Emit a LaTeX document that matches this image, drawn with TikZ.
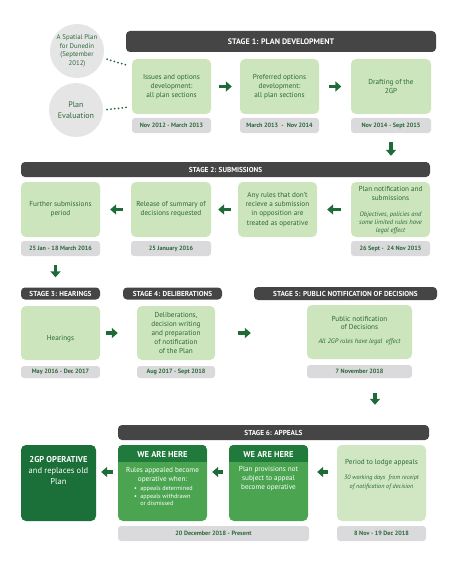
\documentclass[tikz,border=0pt]{standalone}
\usepackage{fontspec}
\setmainfont{PT Sans}
\usetikzlibrary{arrows.meta,calc}
\definecolor{lgreen}{HTML}{CCE5BC}
\definecolor{pgreen}{HTML}{D1E7C3}
\definecolor{tgreen}{HTML}{2B6839}
\definecolor{dgrey}{HTML}{454545}
\definecolor{dategrey}{HTML}{DADADC}
\definecolor{agreen}{HTML}{1E6B37}
\definecolor{dkgreen}{HTML}{1B6F38}
\definecolor{hdgreen}{HTML}{207A3C}
\definecolor{mdgreen}{HTML}{4BA550}
\definecolor{cgrey}{HTML}{E5E5E5}
\begin{document}
\begin{tikzpicture}[x=1pt,y=-1pt,
  box/.style={fill=lgreen, rounded corners=5pt, inner sep=0pt, text=tgreen, align=center, font=\fontsize{7.2}{9.2}\selectfont},
  datebox/.style={fill=dategrey, rounded corners=3pt, inner sep=0pt, text=tgreen, font=\bfseries\fontsize{6.2}{7}\selectfont, minimum height=15},
  bar/.style={fill=dgrey, rounded corners=4pt, inner sep=0pt, text=white, font=\bfseries\fontsize{7.2}{8}\selectfont},
  circ/.style={circle, fill=cgrey, inner sep=0pt, minimum size=54, text=tgreen, align=center},
  garrow/.style={draw=agreen, line width=3.5pt, -{Triangle[length=6pt,width=10pt]}},
  dots/.style={draw=tgreen, line width=2pt, line cap=round, dash pattern=on 0pt off 3.8pt},
  txt/.style={text=tgreen, align=center, inner sep=0pt, font=\fontsize{7.2}{8.8}\selectfont},
  itxt/.style={text=tgreen, align=center, inner sep=0pt, font=\itshape\fontsize{6.5}{8}\selectfont},
  wtxt/.style={text=white, align=center, inner sep=0pt, font=\fontsize{7.2}{9}\selectfont},
  htxt/.style={text=white, inner sep=0pt, font=\bfseries\fontsize{8.5}{10}\selectfont}
]
\useasboundingbox[fill=white] (0,0) rectangle (450,567);

% circles
\node[circ, font=\fontsize{6.8}{8.6}\selectfont] (c1) at (77,51) {A Spatial Plan\\for Dunedin\\(September\\2012)};
\node[circ, font=\fontsize{8}{10.5}\selectfont] (c2) at (76,110) {Plan\\Evaluation};

% stage 1
\node[bar, minimum width=310, minimum height=21, font=\bfseries\fontsize{8}{9}\selectfont] (s1) at (281,41.5) {STAGE 1: PLAN DEVELOPMENT};
\node[box, minimum width=79, minimum height=55] (b11) at (171.5,86.5) {Issues and options\\development:\\all plan sections};
\node[datebox, minimum width=79] (d11) at (171.5,125.5) {Nov 2012 - March 2013};
\node[box, minimum width=79, minimum height=55] (b12) at (279.5,86.5) {Preferred options\\development:\\all plan sections};
\node[datebox, minimum width=79] (d12) at (279.5,125.5) {March 2013 \ - \ Nov 2014};
\node[box, minimum width=80, minimum height=55] (b13) at (391,86.5) {Drafting of the\\2GP};
\node[datebox, minimum width=80] (d13) at (391,125.5) {Nov 2014 - Sept 2015};

\draw[dots, shorten <=4pt] (c1.-15) -- ([xshift=-4pt,yshift=21pt]b11.west);
\draw[dots, shorten <=4pt] (c2.east) -- ([xshift=-4pt,yshift=7pt]b11.south west);
\draw[garrow, shorten <=8pt, shorten >=8pt] (b11) -- (b12);
\draw[garrow, shorten <=9.5pt, shorten >=9.5pt] (b12) -- (b13);

% stage 2
\node[bar, minimum width=409, minimum height=15] (s2) at (225.5,169.5) {STAGE 2: SUBMISSIONS};
\draw[garrow, shorten <=9pt, shorten >=6pt] (d13.south) -- (d13.south |- s2.north);
\node[box, minimum width=79, minimum height=55] (b21) at (60.5,209.5) {Further submissions\\period};
\node[datebox, minimum width=79] (d21) at (60.5,248.5) {25 Jan - 18 March 2016};
\node[box, minimum width=80, minimum height=55] (b22) at (171,209.5) {Release of summary of\\decisions requested};
\node[datebox, minimum width=80] (d22) at (171,248.5) {25 January 2016};
\node[box, minimum width=79, minimum height=55] (b23) at (277.5,209.5) {Any rules that don't\\recieve a submission\\in opposition are\\treated as operative};
\node[box, minimum width=79, minimum height=55] (b24) at (390.5,209.5) {};
\node[txt] (t24) at (390.5,193.5) {Plan notification and\\submissions};
\node[itxt] (i24) at (390.5,223) {Objectives, policies and\\some limited rules have\\legal effect};
\node[datebox, minimum width=79] (d24) at (390.5,248.5) {26 Sept - \ 24 Nov 2015};
\draw[garrow, shorten <=10pt, shorten >=10pt] (b24) -- (b23);
\draw[garrow, shorten <=7pt, shorten >=7pt] (b23) -- (b22);
\draw[garrow, shorten <=8pt, shorten >=10pt] (b22) -- (b21);

% stages 3-5
\node[bar, minimum width=79, minimum height=12] (s3) at (60.5,293.5) {STAGE 3: HEARINGS};
\node[bar, minimum width=99, minimum height=12] (s4) at (172.5,293.5) {STAGE 4: DELIBERATIONS};
\node[bar, minimum width=183, minimum height=13] (s5) at (345.5,293.5) {STAGE 5: PUBLIC NOTIFICATION OF DECISIONS};
\draw[garrow, shorten <=9pt, shorten >=10pt] ([xshift=-5pt]d21.south) -- ([xshift=-5pt]d21.south |- s3.north);

\node[box, minimum width=79, minimum height=54] (b31) at (60.5,333) {};
\node[txt] (t31) at (60.5,339) {Hearings};
\node[datebox, minimum width=79, minimum height=12] (d31) at (60.5,372) {May 2016 - Dec 2017};
\node[box, minimum width=78, minimum height=54, font=\fontsize{7.2}{8.9}\selectfont] (b32) at (176,333) {Deliberations,\\decision writing\\and preparation\\of notification\\of the Plan};
\node[datebox, minimum width=78, minimum height=12] (d32) at (176,372) {Aug 2017 - Sept 2018};
\node[box, minimum width=105, minimum height=54] (b33) at (359.5,332) {};
\node[txt, font=\fontsize{7.2}{8.3}\selectfont] (t33) at (359.5,323) {Public notification\\of Decisions};
\node[itxt, font=\itshape\fontsize{6.6}{8}\selectfont] (i33) at (359.5,342) {All 2GP rules have legal \ effect};
\node[datebox, minimum width=105, minimum height=13] (d33) at (359.5,371.5) {7 November 2018};
\draw[garrow, shorten <=6pt, shorten >=19pt] (b31) -- (b32);
\draw[garrow, shorten <=23pt, shorten >=56pt] (b32.east) -- (b32.east -| b33.west);

% stage 6
\node[bar, minimum width=311, minimum height=15] (s6) at (273.5,432.5) {STAGE 6: APPEALS};
\draw[garrow, shorten <=15pt, shorten >=20pt] ([xshift=15.5pt]d33.south) -- ([xshift=15.5pt]d33.south |- s6.north);

\node[fill=dkgreen, rounded corners=5pt, minimum width=75, minimum height=76, inner sep=0pt] (b41) at (58.5,483) {};
\node[wtxt, font=\fontsize{8.5}{10.6}\selectfont] (t41) at (58.5,470.5) {{\bfseries 2GP OPERATIVE}\\and replaces old\\Plan};

\node[fill=mdgreen, rounded corners=5pt, minimum width=89, minimum height=76, inner sep=0pt] (b42) at (162.5,483) {};
\begin{scope}
  \clip[rounded corners=5pt] (b42.north west) rectangle (b42.south east);
  \fill[hdgreen] (b42.north west) rectangle ($(b42.north east)+(0,17)$);
\end{scope}
\node[htxt] (h42) at (162.5,454) {WE ARE HERE};
\node[wtxt] (t42) at (162.5,475.5) {Rules appealed become\\operative when:};
\node[wtxt, align=left, anchor=north west, font=\fontsize{6.2}{7.6}\selectfont] (l42) at (134,486) {\textbullet\ \ appeals determined\\\textbullet\ \ appeals withdrawn\\\phantom{\textbullet\ \ }or dismissed};

\node[fill=mdgreen, rounded corners=5pt, minimum width=79, minimum height=76, inner sep=0pt] (b43) at (268.5,483) {};
\begin{scope}
  \clip[rounded corners=5pt] (b43.north west) rectangle (b43.south east);
  \fill[hdgreen] (b43.north west) rectangle ($(b43.north east)+(0,17)$);
\end{scope}
\node[htxt] (h43) at (268.5,454) {WE ARE HERE};
\node[wtxt] (t43) at (268.5,479) {Plan provisions not\\subject to appeal\\become operative};

\node[fill=pgreen, rounded corners=5pt, minimum width=89, minimum height=76, inner sep=0pt] (b44) at (381.5,483) {};
\node[txt] (t44) at (381.5,463) {Period to lodge appeals};
\node[itxt, font=\itshape\fontsize{6.2}{9}\selectfont] (i44) at (381.5,482.5) {30 working days \ from receipt\\of notification of decision};

\node[datebox, minimum width=191] (d42) at (213.5,533.5) {20 December 2018 - Present};
\node[datebox, minimum width=89] (d44) at (381.5,533.5) {8 Nov - 19 Dec 2018};

\draw[garrow, shorten <=9pt, shorten >=9pt] ([yshift=11pt]b44.west) -- ([yshift=11pt]b43.east);
\draw[garrow, shorten <=6pt, shorten >=5pt] ([yshift=11pt]b43.west) -- ([yshift=11pt]b42.east);
\draw[garrow, shorten <=5pt, shorten >=5pt] ([yshift=11pt]b42.west) -- ([yshift=11pt]b41.east);
\end{tikzpicture}
\end{document}
